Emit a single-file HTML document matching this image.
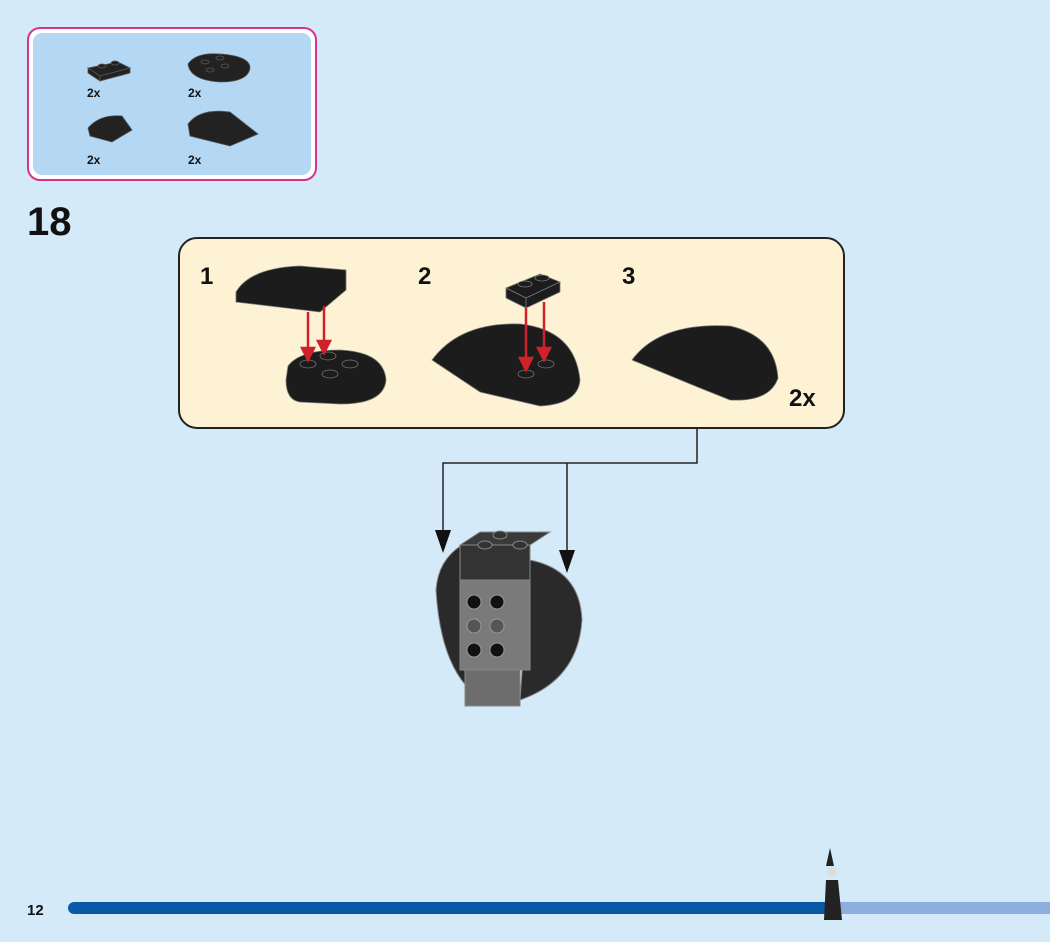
<!DOCTYPE html>
<html><head><style>
html,body{margin:0;padding:0;}
body{width:1050px;height:942px;background:#d5eaf9;position:relative;overflow:hidden;font-family:"Liberation Sans",sans-serif;}
svg{position:absolute;left:0;top:0;}
</style></head><body>
<svg width="1050" height="942" viewBox="0 0 1050 942">
<rect x="28" y="28" width="288" height="152" rx="12" fill="#fff" stroke="#d6338a" stroke-width="2"/>
<rect x="33" y="33" width="278" height="142" rx="9" fill="#b4d7f3"/>
<g fill="#222" stroke="#555" stroke-width="0.8">
<path d="M88 68 L118 62 L130 68 L100 76 Z"/><path d="M88 68 L100 76 L100 81 L88 73 Z"/><path d="M100 76 L130 68 L130 73 L100 81 Z"/>
<ellipse cx="102" cy="66" rx="4" ry="2"/><ellipse cx="115" cy="63" rx="4" ry="2"/>
<path d="M188 64 Q196 52 220 54 Q250 56 250 68 Q248 82 220 82 Q190 80 188 64 Z"/>
<ellipse cx="205" cy="62" rx="4" ry="2"/><ellipse cx="220" cy="58" rx="4" ry="2"/><ellipse cx="225" cy="66" rx="4" ry="2"/><ellipse cx="210" cy="70" rx="4" ry="2"/>
<path d="M88 128 Q100 114 122 116 L132 130 L112 142 L90 136 Z"/>
<path d="M188 124 Q200 108 230 112 L258 134 L230 146 L190 136 Z"/>
</g>
<g font-size="12" font-weight="bold" fill="#111">
<text x="87" y="97">2x</text><text x="188" y="97">2x</text>
<text x="87" y="164">2x</text><text x="188" y="164">2x</text>
</g>
<text x="27" y="235" font-size="40" font-weight="bold" fill="#111">18</text>
<rect x="179" y="238" width="665" height="190" rx="18" fill="#fdf3d4" stroke="#222" stroke-width="2"/>
<g font-size="24" font-weight="bold" fill="#111">
<text x="200" y="284">1</text><text x="418" y="284">2</text><text x="622" y="284">3</text>
<text x="789" y="406">2x</text>
</g>
<g fill="#1c1c1c" stroke="#777" stroke-width="0.8">
<path d="M236 292 Q250 268 300 266 L346 270 L346 290 L320 312 L236 302 Z"/>
<path d="M288 366 Q300 350 340 350 Q384 352 386 380 Q384 404 340 404 L300 402 Q286 400 286 380 Z"/>
<ellipse cx="308" cy="364" rx="8" ry="4"/><ellipse cx="328" cy="356" rx="8" ry="4"/><ellipse cx="350" cy="364" rx="8" ry="4"/><ellipse cx="330" cy="374" rx="8" ry="4"/>
<path d="M432 360 Q460 322 520 324 Q575 330 580 380 Q578 404 540 406 L480 392 Z"/>
<path d="M506 288 L540 274 L560 282 L526 298 Z"/><path d="M506 288 L526 298 L526 308 L506 298 Z"/><path d="M526 298 L560 282 L560 292 L526 308 Z"/>
<ellipse cx="525" cy="284" rx="7" ry="3"/><ellipse cx="542" cy="278" rx="7" ry="3"/>
<ellipse cx="526" cy="374" rx="8" ry="4"/><ellipse cx="546" cy="364" rx="8" ry="4"/>
<path d="M632 360 Q660 322 730 326 Q775 336 778 378 Q770 402 730 400 L700 388 Z"/>
</g>
<g stroke="#d0202a" stroke-width="2.5" fill="#d0202a">
<line x1="308" y1="312" x2="308" y2="352"/><path d="M302 348 L314 348 L308 360 Z"/>
<line x1="324" y1="306" x2="324" y2="345"/><path d="M318 341 L330 341 L324 353 Z"/>
<line x1="526" y1="308" x2="526" y2="362"/><path d="M520 358 L532 358 L526 370 Z"/>
<line x1="544" y1="302" x2="544" y2="352"/><path d="M538 348 L550 348 L544 360 Z"/>
</g>
<g stroke="#222" stroke-width="1.5" fill="none">
<polyline points="697,428 697,463 443,463 443,535"/>
<line x1="567" y1="463" x2="567" y2="555"/>
</g>
<path d="M435 530 L451 530 L443 553 Z" fill="#111"/>
<path d="M559 550 L575 550 L567 573 Z" fill="#111"/>
<g stroke="#888" stroke-width="1">
<path d="M436 590 Q438 560 462 545 L470 690 Q440 660 436 590 Z" fill="#2a2a2a"/>
<path d="M530 560 Q580 570 582 620 Q578 680 520 700 Z" fill="#2a2a2a"/>
<rect x="460" y="545" width="70" height="80" fill="#333"/>
<path d="M460 545 L480 532 L550 532 L530 545 Z" fill="#3a3a3a"/>
<rect x="460" y="580" width="70" height="90" fill="#7a7a7a"/>
<rect x="465" y="670" width="55" height="36" fill="#6d6d6d"/>
<ellipse cx="500" cy="535" rx="7" ry="4" fill="#333"/><ellipse cx="520" cy="545" rx="7" ry="4" fill="#333"/><ellipse cx="485" cy="545" rx="7" ry="4" fill="#333"/>
</g>
<g fill="#111" stroke="#999" stroke-width="1">
<circle cx="474" cy="602" r="7"/><circle cx="497" cy="602" r="7"/>
<circle cx="474" cy="626" r="7" fill="#555"/><circle cx="497" cy="626" r="7" fill="#555"/>
<circle cx="474" cy="650" r="7"/><circle cx="497" cy="650" r="7"/>
</g>
<text x="27" y="915" font-size="15" font-weight="bold" fill="#111">12</text>
<rect x="68" y="902" width="765" height="12" rx="6" fill="#0a5aa8"/>
<rect x="828" y="902" width="222" height="12" fill="#8eaee0"/>
<path d="M826 880 L838 880 L842 920 L824 920 Z" fill="#222"/>
<path d="M830 848 L834 866 L826 866 Z" fill="#222"/>
<circle cx="832" cy="872" r="5" fill="#ddd"/>
</svg>
</body></html>
